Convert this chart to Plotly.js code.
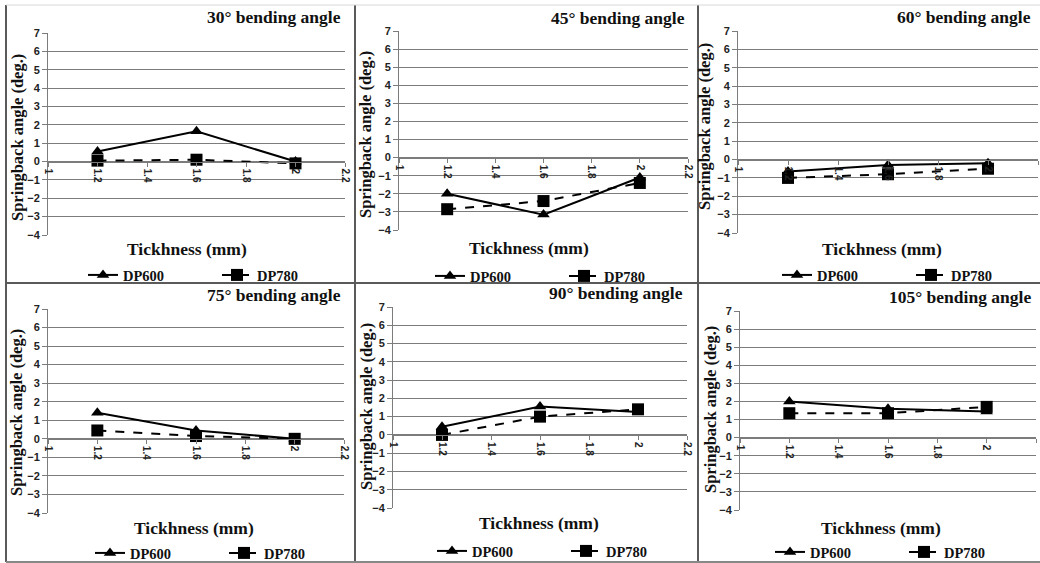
<!DOCTYPE html>
<html>
<head>
<meta charset="utf-8">
<script src="https://cdn.plot.ly/plotly-3.0.1.min.js"></script>
<style>
  html, body { margin: 0; padding: 0; background: #fff; }
  #chart { width: 1040px; height: 563px; }
</style>
</head>
<body>
<div id="chart"></div>
<script>
// ---- data ----
const thickness = [1.2, 1.6, 2];
const panelTitles = ["30° bending angle", "45° bending angle", "60° bending angle",
                     "75° bending angle", "90° bending angle", "105° bending angle"];
const seriesNames = ["DP600", "DP780"];
const dp600_30 = [0.55, 1.65, 0.0];
const dp780_30 = [0.05, 0.1, -0.1];
const dp600_45 = [-2.0, -3.15, -1.1];
const dp780_45 = [-2.85, -2.4, -1.4];
const dp600_60 = [-0.65, -0.3, -0.2];
const dp780_60 = [-1.0, -0.8, -0.5];
const dp600_75 = [1.4, 0.45, 0.0];
const dp780_75 = [0.45, 0.15, 0.0];
const dp600_90 = [0.45, 1.55, 1.25];
const dp780_90 = [0.0, 1.0, 1.4];
const dp600_105 = [2.0, 1.6, 1.45];
const dp780_105 = [1.35, 1.35, 1.7];
const xTitle = "Tickhness (mm)";
const yTitle = "Springback angle (deg.)";

const dp600 = [dp600_30, dp600_45, dp600_60, dp600_75, dp600_90, dp600_105];
const dp780 = [dp780_30, dp780_45, dp780_60, dp780_75, dp780_90, dp780_105];

// ---- layout geometry (pixels) ----
const W = 1040, H = 563;
const px = v => v / W;
const py = v => 1 - v / H;
// [left, right, top(y=7), bottom(y=-4)]
const boxes = [
  [48, 345, 33, 235],
  [399, 688, 31, 230],
  [738, 1038, 31, 233],
  [48, 344, 309, 513],
  [393, 687, 307, 508],
  [740, 1036, 311, 510]
];
const titlePos = [[343, 17], [687, 18], [1033, 17], [343, 295], [685, 293], [1033, 297]];
const xTitlePos = [[187, 249], [529, 248], [882, 249], [194, 528], [539, 523], [881, 528]];
const yTitlePos = [[17, 138], [365, 135], [705, 127], [16, 413], [366, 407], [710, 410]];
const legendPos = [[83, 275], [430, 276], [777, 275], [90, 553], [432, 551], [770, 552]];

const serif = "Liberation Serif, Times New Roman, serif";
const sans = "Liberation Sans, Arial, sans-serif";
const gridCol = "#7c7c7c";

const traces = [];
const layout = {
  width: W, height: H,
  margin: {l: 0, r: 0, t: 0, b: 0, autoexpand: false},
  paper_bgcolor: "#fff", plot_bgcolor: "rgba(0,0,0,0)",
  showlegend: true,
  annotations: [], shapes: []
};

for (let i = 0; i < 6; i++) {
  const n = i === 0 ? "" : String(i + 1);
  const [l, r, t, b] = boxes[i];
  const yd = [py(b), py(t)];
  const zeroPos = yd[0] + (yd[1] - yd[0]) * (4 / 11);
  const legName = "legend" + n;
  traces.push({
    x: thickness, y: dp600[i], name: seriesNames[0], type: "scatter", mode: "lines+markers",
    xaxis: "x" + n, yaxis: "y" + n, legend: legName,
    line: {color: "#000", width: 2},
    marker: {symbol: "triangle-up", size: 11, color: "#000"}
  });
  traces.push({
    x: thickness, y: dp780[i], name: seriesNames[1], type: "scatter", mode: "lines+markers",
    xaxis: "x" + n, yaxis: "y" + n, legend: legName,
    line: {color: "#000", width: 2, dash: "dash"},
    marker: {symbol: "square", size: 12, color: "#000"}
  });
  layout["xaxis" + n] = {
    domain: [px(l), px(r)], range: [1, 2.2], dtick: 0.2, tick0: 1,
    anchor: "free", position: zeroPos,
    showgrid: false, zeroline: false, showline: true, linecolor: gridCol, linewidth: 1,
    ticks: "outside", ticklen: 4, tickcolor: gridCol, tickangle: 90,
    tickfont: {family: sans, size: 10, color: "#222", weight: "bold"},
    fixedrange: true
  };
  layout["yaxis" + n] = {
    domain: yd, range: [-4, 7], dtick: 1, tick0: 0, anchor: "x" + n,
    showgrid: true, gridcolor: gridCol, gridwidth: 1, zeroline: false,
    showline: true, linecolor: gridCol, linewidth: 1,
    ticks: "outside", ticklen: 5, tickcolor: gridCol,
    tickfont: {family: sans, size: 11, color: "#222", weight: "bold"},
    fixedrange: true
  };
  layout[legName] = {
    orientation: "h", x: px(legendPos[i][0]), y: py(legendPos[i][1]),
    xanchor: "left", yanchor: "middle",
    xref: "paper", yref: "paper",
    bgcolor: "rgba(0,0,0,0)", borderwidth: 0,
    entrywidth: 89, entrywidthmode: "pixels",
    font: {family: serif, size: 14.5, color: "#111", weight: "bold"},
    itemclick: false, itemdoubleclick: false
  };
  layout.annotations.push({
    text: panelTitles[i], xref: "paper", yref: "paper",
    x: px(titlePos[i][0]), y: py(titlePos[i][1]), xanchor: "right", yanchor: "middle",
    showarrow: false, font: {family: serif, size: 17.5, color: "#111", weight: "bold"}
  });
  layout.annotations.push({
    text: xTitle, xref: "paper", yref: "paper",
    x: px(xTitlePos[i][0]), y: py(xTitlePos[i][1]), xanchor: "center", yanchor: "middle",
    showarrow: false, font: {family: serif, size: 17.5, color: "#111", weight: "bold"}
  });
  layout.annotations.push({
    text: yTitle, xref: "paper", yref: "paper", textangle: -90,
    x: px(yTitlePos[i][0]), y: py(yTitlePos[i][1]), xanchor: "center", yanchor: "middle",
    showarrow: false, font: {family: serif, size: 16.5, color: "#111", weight: "bold"}
  });
}

// panel frames
const frame = {color: "#5a5a5a", width: 2};
layout.shapes.push({type: "line", xref: "paper", yref: "paper", x0: px(355), x1: px(355), y0: 0, y1: py(5), line: frame});
layout.shapes.push({type: "line", xref: "paper", yref: "paper", x0: px(698), x1: px(698), y0: 0, y1: py(5), line: frame});
layout.shapes.push({type: "line", xref: "paper", yref: "paper", x0: px(6), x1: 1, y0: py(283), y1: py(283), line: frame});
layout.shapes.push({type: "line", xref: "paper", yref: "paper", x0: px(6), x1: px(6), y0: py(562), y1: py(5), line: frame});
layout.shapes.push({type: "line", xref: "paper", yref: "paper", x0: px(6), x1: 1, y0: py(562), y1: py(562), line: {color: "#888", width: 2}});
layout.shapes.push({type: "line", xref: "paper", yref: "paper", x0: px(6), x1: 1, y0: py(5), y1: py(5), line: {color: "#d8d8d8", width: 1}});

Plotly.newPlot("chart", traces, layout, {displayModeBar: false, staticPlot: true});
</script>
</body>
</html>
